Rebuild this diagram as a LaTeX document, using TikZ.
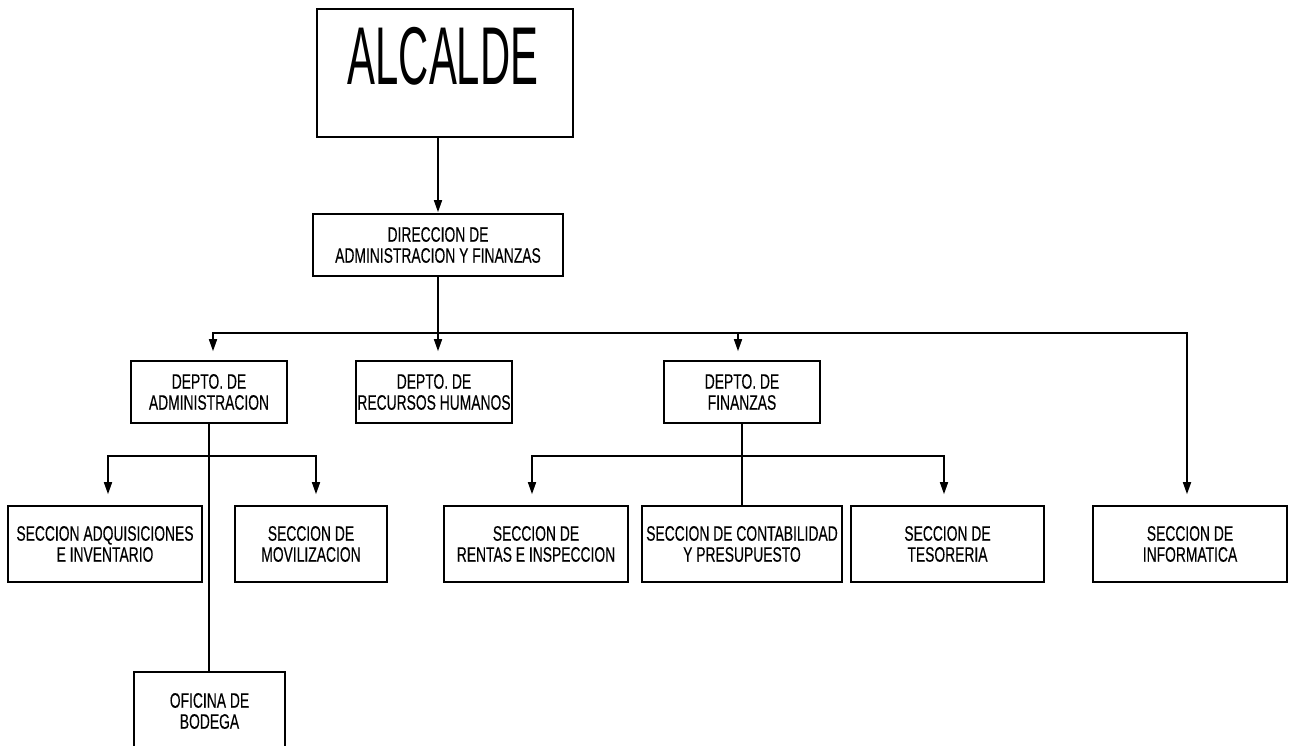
\documentclass[tikz,border=0pt]{standalone}
\usepackage{fontspec}
\setmainfont[FakeStretch=0.66,FakeBold=0.25]{Liberation Sans}
\newfontfamily\bigfont[FakeStretch=0.51]{Liberation Sans}
\usetikzlibrary{arrows.meta}
\begin{document}
\begin{tikzpicture}[x=1pt,y=-1pt,
  box/.style={draw,line width=1.6pt,rectangle,inner sep=0pt,align=center,
    font=\fontsize{21}{21}\selectfont},
  ln/.style={line width=1.6pt},
  arr/.style={line width=1.6pt,-{Triangle[length=12pt,width=8pt]}}]
\useasboundingbox (0,0) rectangle (1290,746);
\clip (0,0) rectangle (1290,746);
\fill[white] (0,0) rectangle (1290,746);
% boxes
\node[box,minimum width=256pt,minimum height=128pt] (alcalde) at (445,73) {};
\node[font=\bigfont\fontsize{82}{82}\selectfont,inner sep=0pt] (alctext) at (443,56) {ALCALDE};
\node[box,minimum width=250pt,minimum height=62pt] (dir) at (438,245) {DIRECCION DE\\ADMINISTRACION Y FINANZAS};
\node[box,minimum width=156pt,minimum height=62pt] (admin) at (209,392) {DEPTO. DE\\ADMINISTRACION};
\node[box,minimum width=156pt,minimum height=62pt] (rrhh) at (434,392) {DEPTO. DE\\RECURSOS HUMANOS};
\node[box,minimum width=156pt,minimum height=62pt] (fin) at (742,392) {DEPTO. DE\\FINANZAS};
\node[box,minimum width=194pt,minimum height=76pt] (adq) at (105,544) {SECCION ADQUISICIONES\\E INVENTARIO};
\node[box,minimum width=152pt,minimum height=76pt] (mov) at (311,544) {SECCION DE\\MOVILIZACION};
\node[box,minimum width=184pt,minimum height=76pt] (rentas) at (536,544) {SECCION DE\\RENTAS E INSPECCION};
\node[box,minimum width=200pt,minimum height=76pt] (conta) at (742,544) {SECCION DE CONTABILIDAD\\Y PRESUPUESTO};
\node[box,minimum width=193pt,minimum height=76pt] (teso) at (947.5,544) {SECCION DE\\TESORERIA};
\node[box,minimum width=194pt,minimum height=76pt] (info) at (1190,544) {SECCION DE\\INFORMATICA};
\node[box,minimum width=151pt,minimum height=92pt] (ofi) at (209.5,718) {};
\node[font=\fontsize{21}{21}\selectfont,align=center,inner sep=0pt] (ofitext) at (209.5,711) {OFICINA DE\\BODEGA};
% coordinates
\coordinate (b0) at (438,333);
\coordinate (bA) at (213,333);
\coordinate (bF) at (738,333);
\coordinate (bI) at (1187,333);
\coordinate (sA) at (209,456);
\coordinate (sAl) at (108,456);
\coordinate (sAr) at (316,456);
\coordinate (sF) at (742,456);
\coordinate (sFl) at (532,456);
\coordinate (sFr) at (944,456);
% connectors
\draw[arr,shorten >=1pt] (dir.north |- alcalde.south) -- (dir.north);
\draw[ln] (dir.south) -- (b0);
\draw[arr,shorten >=9pt] (b0) -| (bA |- admin.north);
\draw[arr,shorten >=9pt] (b0) -- (b0 |- rrhh.north);
\draw[arr,shorten >=11pt] (b0) -| (bI |- info.north);
\draw[arr,shorten >=9pt] (bF) -- (bF |- fin.north);
\draw[ln] (sA |- admin.south) -- (sA |- ofi.north);
\draw[arr,shorten >=11pt] (sA) -| (sAl |- adq.north);
\draw[arr,shorten >=11pt] (sA) -| (sAr |- mov.north);
\draw[ln] (fin.south) -- (fin.south |- conta.north);
\draw[arr,shorten >=11pt] (sF) -| (sFl |- rentas.north);
\draw[arr,shorten >=11pt] (sF) -| (sFr |- teso.north);
\end{tikzpicture}
\end{document}
